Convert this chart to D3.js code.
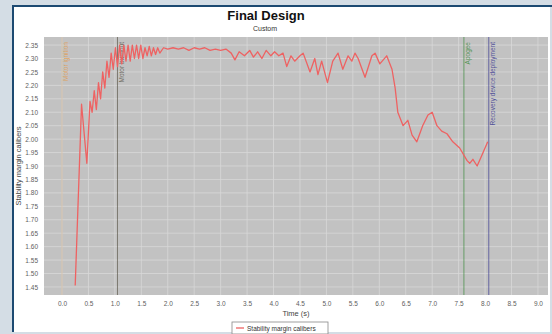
<!DOCTYPE html>
<html>
<head>
<meta charset="utf-8">
<script src="https://cdn.jsdelivr.net/npm/d3@7/dist/d3.min.js"></script>
<style>
  html, body { margin: 0; padding: 0; background: #d4dde5; }
  svg { display: block; font-family: "Liberation Sans", "DejaVu Sans", sans-serif; }
</style>
</head>
<body>
<svg id="chart" width="552" height="334"></svg>
<script>
// Stability margin (calibers) over flight time
const times = [0.25, 0.37, 0.47, 0.53, 0.57, 0.61, 0.65, 0.69, 0.73, 0.77, 0.81, 0.85, 0.89, 0.93, 0.97,
  1.01, 1.05, 1.09, 1.13, 1.17, 1.21, 1.25, 1.29, 1.33, 1.37, 1.41, 1.45, 1.49, 1.53, 1.57, 1.61, 1.65,
  1.69, 1.73, 1.77, 1.81, 1.85, 1.92, 2.0, 2.1, 2.2, 2.3, 2.4, 2.5, 2.6, 2.7, 2.8, 2.9, 3.0, 3.1, 3.2,
  3.27, 3.35, 3.45, 3.55, 3.62, 3.7, 3.78, 3.86, 3.95, 4.02, 4.1, 4.18, 4.25, 4.33, 4.4, 4.5, 4.56,
  4.69, 4.78, 4.84, 4.91, 5.02, 5.12, 5.22, 5.31, 5.41, 5.48, 5.54, 5.60, 5.73, 5.86, 5.92, 6.01,
  6.14, 6.24, 6.30, 6.35, 6.45, 6.54, 6.62, 6.71, 6.82, 6.92, 7.00, 7.09, 7.18, 7.28, 7.39, 7.52,
  7.66, 7.71, 7.77, 7.85, 7.94, 8.05];
const stabilityMargin = [1.455, 2.13, 1.91, 2.14, 2.10, 2.18, 2.11, 2.21, 2.15, 2.25, 2.19, 2.29, 2.23, 2.32, 2.26,
  2.34, 2.27, 2.35, 2.28, 2.35, 2.29, 2.35, 2.29, 2.35, 2.30, 2.35, 2.30, 2.35, 2.30, 2.34, 2.31, 2.345,
  2.31, 2.34, 2.315, 2.34, 2.32, 2.34, 2.335, 2.34, 2.335, 2.34, 2.33, 2.34, 2.335, 2.34, 2.33, 2.335, 2.33, 2.335, 2.32,
  2.295, 2.325, 2.31, 2.33, 2.305, 2.325, 2.30, 2.33, 2.31, 2.325, 2.31, 2.32, 2.27, 2.31, 2.29, 2.31, 2.32,
  2.25, 2.30, 2.24, 2.29, 2.21, 2.29, 2.32, 2.26, 2.31, 2.29, 2.32, 2.30, 2.23, 2.31, 2.32, 2.28,
  2.31, 2.26, 2.19, 2.10, 2.05, 2.07, 2.015, 1.99, 2.05, 2.09, 2.10, 2.05, 2.03, 2.02, 1.99, 1.967,
  1.92, 1.91, 1.925, 1.90, 1.94, 1.99];

// Flight events shown as vertical markers
const eventNames = ["Motor ignition", "Motor burnout", "Apogee", "Recovery device deployment"];
const eventTimes = [0.0, 1.05, 7.6, 8.07];
const eventColors = ["rgb(230,150,60)", "rgb(80,75,60)", "rgb(40,130,40)", "rgb(40,40,140)"];
const eventLineOpacity = [0.25, 0.6, 0.6, 0.6];

const xTicks = d3.range(0, 9.01, 0.5);
const yTicks = d3.range(1.45, 2.351, 0.05);

const svg = d3.select("#chart");

// Outer frame
svg.append("rect").attr("x", 12).attr("y", 5).attr("width", 538).attr("height", 327).attr("fill", "#ffffff");
svg.append("path").attr("d", "M13,332 V6 H552").attr("fill", "none").attr("stroke", "#1d4a72").attr("stroke-width", 2);

const plot = { left: 44, top: 37, right: 548, bottom: 295 };

const x = d3.scaleLinear().domain([-0.34, 9.19]).range([plot.left, plot.right]);
const y = d3.scaleLinear().domain([1.42, 2.38]).range([plot.bottom, plot.top]);

// Plot background
svg.append("rect")
  .attr("x", plot.left).attr("y", plot.top)
  .attr("width", plot.right - plot.left).attr("height", plot.bottom - plot.top)
  .attr("fill", "#c2c2c2");

// Grid lines
const grid = svg.append("g").attr("stroke", "#d8d8d8").attr("stroke-width", 0.8);
grid.selectAll("line.gx").data(xTicks).join("line").attr("class", "gx")
  .attr("x1", d => x(d)).attr("x2", d => x(d)).attr("y1", plot.top).attr("y2", plot.bottom);
grid.selectAll("line.gy").data(yTicks).join("line").attr("class", "gy")
  .attr("y1", d => y(d)).attr("y2", d => y(d)).attr("x1", plot.left).attr("x2", plot.right);

// Axes (labels only, like the original plot)
const xAxis = d3.axisBottom(x).tickValues(xTicks).tickFormat(d3.format(".1f")).tickSize(0).tickPadding(6);
const yAxis = d3.axisLeft(y).tickValues(yTicks).tickFormat(d3.format(".2f")).tickSize(0).tickPadding(6);
const gx = svg.append("g").attr("transform", `translate(0,${plot.bottom})`).call(xAxis);
const gy = svg.append("g").attr("transform", `translate(${plot.left},0)`).call(yAxis);
[gx, gy].forEach(g => {
  g.select(".domain").remove();
  g.selectAll("text").attr("fill", "#606060").attr("font-size", 6.5).attr("font-family", "Liberation Sans, sans-serif");
});

// Event markers
const events = eventNames.map((n, i) => ({ name: n, t: eventTimes[i], color: eventColors[i], op: eventLineOpacity[i] }));
const ev = svg.append("g");
ev.selectAll("line").data(events).join("line")
  .attr("x1", d => x(d.t)).attr("x2", d => x(d.t))
  .attr("y1", plot.top).attr("y2", plot.bottom)
  .attr("stroke", d => d.color).attr("stroke-width", 1).attr("stroke-opacity", d => d.op);
ev.selectAll("text").data(events).join("text")
  .attr("transform", d => `translate(${x(d.t) + 4},${plot.top + 5}) rotate(-90)`)
  .attr("text-anchor", "end").attr("dy", "0.35em")
  .attr("font-size", 6.5).attr("fill", d => d.color).attr("fill-opacity", 0.75)
  .text(d => d.name);

// Stability margin series
const series = times.map((t, i) => [t, stabilityMargin[i]]);
svg.append("path").datum(series)
  .attr("fill", "none").attr("stroke", "#ee6262").attr("stroke-width", 1.3).attr("stroke-linejoin", "round")
  .attr("d", d3.line().x(d => x(d[0])).y(d => y(d[1])));

// Titles
svg.append("text").attr("x", 266).attr("y", 20).attr("text-anchor", "middle")
  .attr("font-size", 13).attr("font-weight", "bold").attr("fill", "#111").text("Final Design");
svg.append("text").attr("x", 265).attr("y", 31).attr("text-anchor", "middle")
  .attr("font-size", 7).attr("fill", "#333").text("Custom");

svg.append("text").attr("x", 296).attr("y", 316).attr("text-anchor", "middle")
  .attr("font-size", 7.5).attr("fill", "#444").text("Time (s)");
svg.append("text").attr("transform", `translate(21,${(plot.top + plot.bottom) / 2}) rotate(-90)`)
  .attr("text-anchor", "middle").attr("font-size", 7.5).attr("fill", "#444").text("Stability margin calibers");

// Legend
const lg = svg.append("g").attr("transform", "translate(232,322)");
lg.append("rect").attr("x", 0).attr("y", 0).attr("width", 96).attr("height", 12)
  .attr("fill", "#fff").attr("stroke", "#888").attr("stroke-width", 0.8);
lg.append("line").attr("x1", 4).attr("x2", 12).attr("y1", 6).attr("y2", 6).attr("stroke", "#ee6262").attr("stroke-width", 1.3);
lg.append("text").attr("x", 15).attr("y", 8.5).attr("font-size", 6.5).attr("fill", "#333").text("Stability margin calibers");
</script>
</body>
</html>
